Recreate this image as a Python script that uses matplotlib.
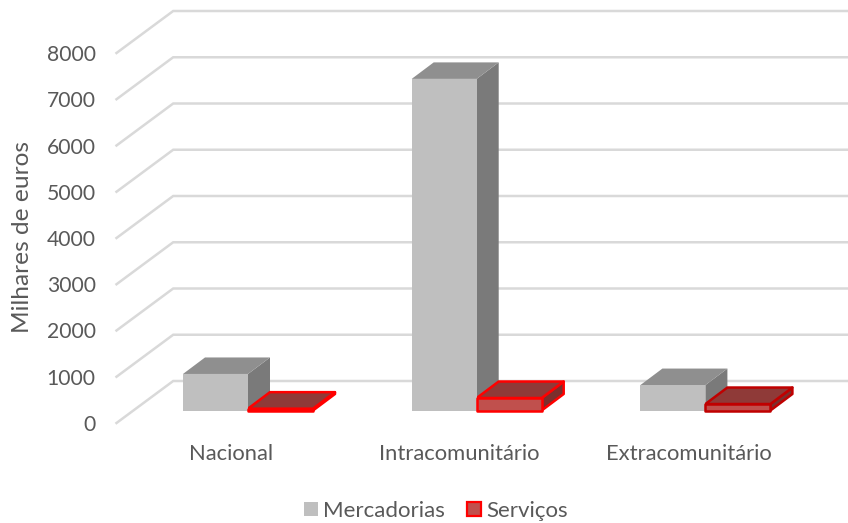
import matplotlib

matplotlib.use("Agg")
import matplotlib.pyplot as plt
from matplotlib.patches import Polygon

plt.rcParams["font.family"] = ["Lato", "DejaVu Sans"]

# values (milhares de euros)
categories = ["Nacional", "Intracomunitário", "Extracomunitário"]
mercadorias = [790, 7170, 550]
servicos = [40, 270, 140]
y_ticks = [0, 1000, 2000, 3000, 4000, 5000, 6000, 7000, 8000]

TEXT = "#595959"
GRID = "#d9d9d9"

fig_w, fig_h = 848, 523
px_x = 228.7  # pixels per category
px_y = 46.25 / 1000  # pixels per euro unit
x0_px, y0_px = 231, 423  # pixel of category 0, value 0

# depth of the floor and of one bar, in data units
floor_dx = 56.7 / px_x
floor_dy = 42 / px_y
bar_dx = 22 / px_x
bar_dy = 16.5 / px_y
bar_w = 65 / px_x
start_dx = 17 / px_x
start_dy = 12.5 / px_y


def bar_3d(ax, xc, height, left, faces, edge, lw):
    xl = xc + left + start_dx
    xr = xl + bar_w
    y0 = start_dy
    y1 = y0 + height
    front = [(xl, y0), (xr, y0), (xr, y1), (xl, y1)]
    top = [(xl, y1), (xr, y1), (xr + bar_dx, y1 + bar_dy), (xl + bar_dx, y1 + bar_dy)]
    side = [(xr, y0), (xr + bar_dx, y0 + bar_dy), (xr + bar_dx, y1 + bar_dy), (xr, y1)]
    for pts, col, z in ((side, faces[2], 3), (top, faces[1], 3), (front, faces[0], 4)):
        ax.add_patch(
            Polygon(pts, closed=True, facecolor=col, edgecolor=edge, linewidth=lw,
                    joinstyle="round", zorder=z, clip_on=False)
        )


fig = plt.figure(figsize=(fig_w / 100, fig_h / 100), dpi=100)

# axes spans the front axis from 116 px to the right edge, and 0..top of back wall
left_px, top_px = 116.5, 10.7
ax = fig.add_axes([left_px / fig_w, 1 - y0_px / fig_h,
                   (fig_w - left_px) / fig_w, (y0_px - top_px) / fig_h])
ax.set_xlim((left_px - x0_px) / px_x, (fig_w - x0_px) / px_x)
ax.set_ylim(0, (y0_px - top_px) / px_y)

x_start = ax.get_xlim()[0]
x_end = ax.get_xlim()[1]
for v in y_ticks:
    ax.plot([x_start, x_start + floor_dx, x_end], [v, v + floor_dy, v + floor_dy],
            color=GRID, lw=1.8, zorder=1, solid_joinstyle="miter", clip_on=False)

grey_faces = ("#bfbfbf", "#8f8f8f", "#7a7a7a")
red_faces = ("#c0504d", "#8f3a38", "#7b2f2d")
serv_edges = ["#ff0000", "#ff0000", "#c00000"]
for i in range(len(categories)):
    bar_3d(ax, i, mercadorias[i], -bar_w, grey_faces, "none", 0)
    bar_3d(ax, i, servicos[i], 0, red_faces, serv_edges[i], 1.8)

ax.set_xticks(range(len(categories)))
ax.set_xticklabels(categories, fontsize=15.8, color=TEXT)
ax.set_yticks(y_ticks)
ax.set_yticklabels([str(v) for v in y_ticks], fontsize=15.2, color=TEXT)
ax.tick_params(axis="x", length=0, pad=15)
ax.tick_params(axis="y", length=0, pad=15)
for s in ax.spines.values():
    s.set_visible(False)
ax.patch.set_alpha(0)

fig.text(22.5 / fig_w, 1 - 237 / fig_h, "Milhares de euros", rotation=90,
         fontsize=17.6, color=TEXT, ha="center", va="center")

# legend
handles = [
    Polygon([(0, 0)], facecolor="#bfbfbf", edgecolor="none"),
    Polygon([(0, 0)], facecolor="#c0504d", edgecolor="#ff0000", linewidth=1.6),
]
fig.legend(handles, ["Mercadorias", "Serviços"], loc="center",
           bbox_to_anchor=(436 / fig_w, 1 - 511 / fig_h), ncol=2, frameon=False,
           fontsize=16, labelcolor=TEXT, handlelength=0.6, handleheight=0.6,
           handletextpad=0.25, columnspacing=1.0, borderpad=0)

fig.savefig("out.png", dpi=100)
